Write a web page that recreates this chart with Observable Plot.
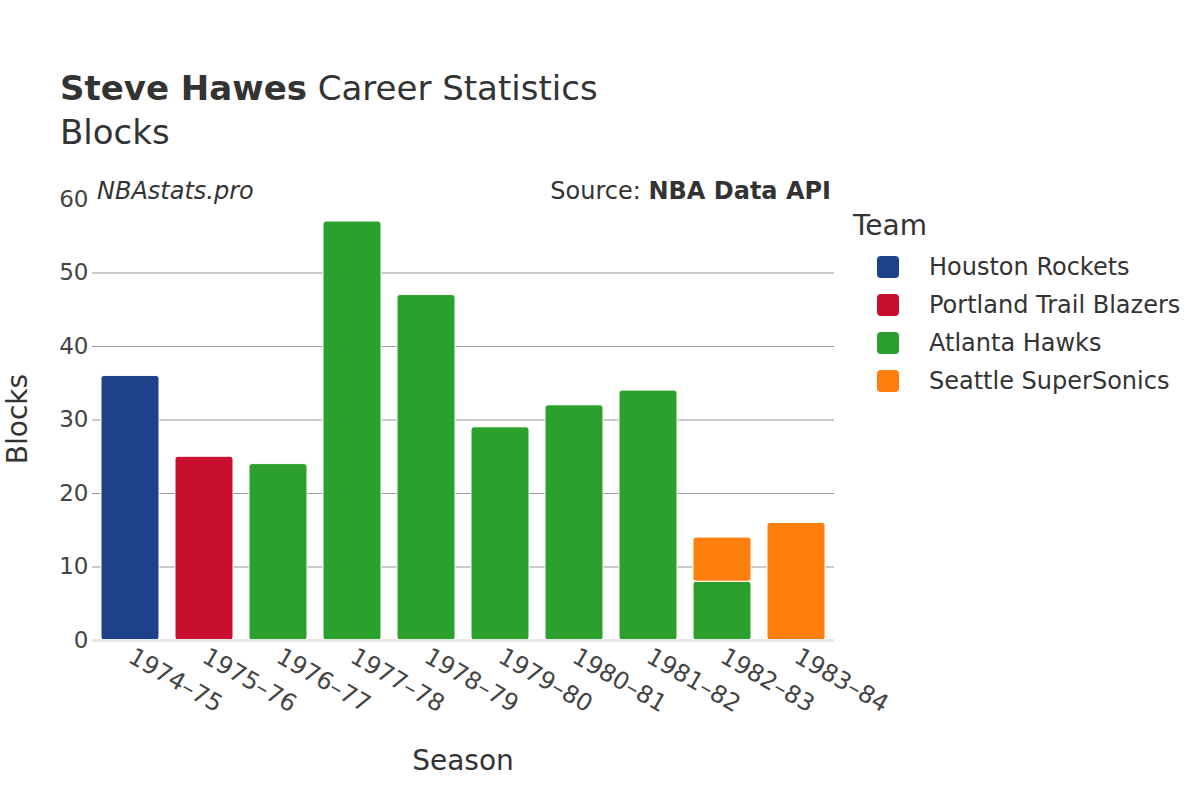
<!DOCTYPE html>
<html>
<head>
<meta charset="utf-8">
<script src="https://cdn.jsdelivr.net/npm/d3@7"></script>
<script src="https://cdn.jsdelivr.net/npm/@observablehq/plot@0.6"></script>
<style>
  html, body { margin: 0; padding: 0; background: #fff; }
  #wrap { position: relative; width: 1200px; height: 800px; font-family: "DejaVu Sans", sans-serif; color: #333; }
  .abs { position: absolute; white-space: nowrap; }
</style>
</head>
<body>
<div id="wrap">
  <div class="abs" style="left:60px; top:68px; font-size:34px; color:#333;"><b>Steve Hawes</b> Career Statistics</div>
  <div class="abs" style="left:60px; top:112px; font-size:34px; color:#333;">Blocks</div>
  <div class="abs" style="left:97px; top:177px; font-size:24px; font-style:italic; color:#333;">NBAstats.pro</div>
  <div class="abs" style="right:369px; top:177px; font-size:24px; color:#333;">Source: <b>NBA Data API</b></div>
  <div id="ylab" class="abs" style="left:17px; top:419px; font-size:28px; color:#333; transform: translate(-50%,-50%) rotate(-90deg);">Blocks</div>
  <div class="abs" style="left:463px; top:760px; font-size:28px; color:#333; transform: translate(-50%,-50%);">Season</div>
  <div id="legend" class="abs" style="left:853px; top:207px;"></div>
  <div id="chart"></div>
</div>
<script>
const seasons = ["1974–75","1975–76","1976–77","1977–78","1978–79","1979–80","1980–81","1981–82","1982–83","1983–84"];
const teams = ["Houston Rockets","Portland Trail Blazers","Atlanta Hawks","Seattle SuperSonics"];
const teamColors = ["#1d4289","#c8102e","#2ca02c","#ff7f0e"];
const barSeason = ["1974–75","1975–76","1976–77","1977–78","1978–79","1979–80","1980–81","1981–82","1982–83","1982–83","1983–84"];
const barTeam = ["Houston Rockets","Portland Trail Blazers","Atlanta Hawks","Atlanta Hawks","Atlanta Hawks","Atlanta Hawks","Atlanta Hawks","Atlanta Hawks","Atlanta Hawks","Seattle SuperSonics","Seattle SuperSonics"];
const barBlocks = [36,25,24,57,47,29,32,34,8,6,16];
const yTicks = [0,10,20,30,40,50,60];
const gridTicks = [10,20,30,40,50];

const data = barSeason.map((s, i) => ({season: s, team: barTeam[i], blocks: barBlocks[i]}));

const chart = Plot.plot({
  width: 1200,
  height: 800,
  marginLeft: 92,
  marginRight: 366,
  marginTop: 199,
  marginBottom: 160,
  style: {fontFamily: "DejaVu Sans, sans-serif", color: "#444", background: "transparent"},
  x: {domain: seasons, paddingInner: 0.21, paddingOuter: 0.1, label: null},
  y: {domain: [0, 60], label: null},
  color: {domain: teams, range: teamColors},
  marks: [
    Plot.gridY(gridTicks, {stroke: "#999", strokeOpacity: 1, strokeWidth: 1}),
    Plot.barY(data, Plot.stackY({x: "season", y: "blocks", fill: "team", order: teams, rx: 3, stroke: "white", strokeWidth: 1})),
    Plot.ruleY([0], {stroke: "#e8e8e8", strokeWidth: 3}),
    Plot.axisY(yTicks, {tickSize: 0, tickPadding: 4, fontSize: 23, label: null, fill: "#444"}),
    Plot.axisX({tickSize: 0, tickPadding: 14, fontSize: 24, tickRotate: 30, label: null, fill: "#444"})
  ]
});
document.getElementById("chart").appendChild(chart);

const leg = document.getElementById("legend");
let html = '<div style="font-size:28px; color:#333; margin-bottom:6px; margin-top:2px;">Team</div>';
teams.forEach((t, i) => {
  html += `<div style="display:flex; align-items:center; height:38px; font-size:24px; color:#333;">
    <span style="display:inline-block; width:22px; height:22px; border-radius:4px; background:${teamColors[i]}; margin-left:24px; margin-right:30px;"></span>${t}</div>`;
});
leg.innerHTML = html;
</script>
</body>
</html>
